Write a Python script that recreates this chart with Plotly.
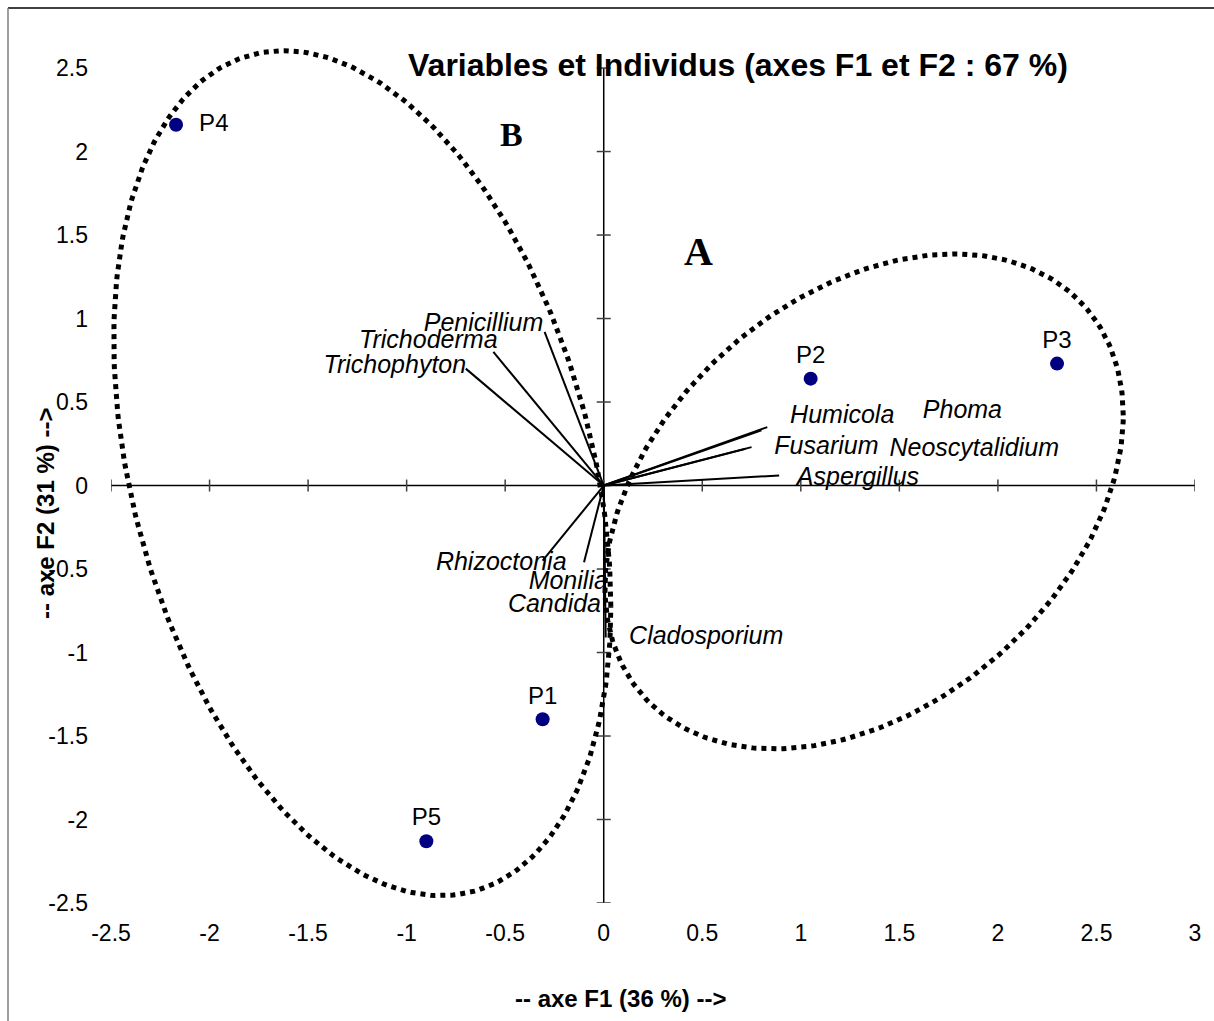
import numpy as np
import plotly.graph_objects as go

# ---------------- data ----------------
obs_names = ["P1", "P2", "P3", "P4", "P5"]
obs_f1 = [-0.31, 1.05, 2.30, -2.17, -0.90]
obs_f2 = [-1.40, 0.64, 0.73, 2.16, -2.13]
obs_textpos = ["top center", "top center", "top center", "middle right", "top center"]

var_names = ["Penicillium", "Trichoderma", "Trichophyton", "Humicola", "Phoma",
             "Fusarium", "Neoscytalidium", "Aspergillus", "Rhizoctonia", "Monilia",
             "Candida", "Cladosporium"]
var_f1 = [-0.30, -0.56, -0.70, 0.83, 0.80, 0.75, 0.72, 0.89, -0.31, -0.10, 0.005, 0.01]
var_f2 = [0.92, 0.80, 0.70, 0.35, 0.33, 0.23, 0.22, 0.06, -0.45, -0.46, -0.72, -0.91]
label_f1 = [-0.61, -0.89, -1.06, 1.21, 1.82, 1.13, 1.88, 1.29, -0.52, -0.18, -0.25, 0.52]
label_f2 = [0.96, 0.86, 0.71, 0.41, 0.44, 0.225, 0.215, 0.04, -0.47, -0.58, -0.72, -0.91]

x_ticks = [-2.5, -2, -1.5, -1, -0.5, 0, 0.5, 1, 1.5, 2, 2.5, 3]
y_ticks = [-2.5, -2, -1.5, -1, -0.5, 0, 0.5, 1, 1.5, 2, 2.5]

# group ellipses: centre, half extents, correlation (data units)
ellipse_B = dict(cx=-1.225, cy=0.074, sx=1.261, sy=2.530, rho=-0.316)
ellipse_A = dict(cx=1.321, cy=-0.095, sx=1.315, sy=1.482, rho=0.3475)

FONT = "Liberation Sans, Arial, sans-serif"
SERIF = "Liberation Serif, Times New Roman, serif"

# plot area in pixels (y range extended a little above 2.5 so the ellipse is not clipped)
PL, PR, PT, PB = 111, 1195, 48, 903
Y_TOP = 2.62


def px_x(p):
    return (p - PL) / (PR - PL)


def px_y(p):
    return (PB - p) / (PB - PT)


fig = go.Figure()

# ellipses
t = np.linspace(0, 2 * np.pi, 400)
for e in (ellipse_B, ellipse_A):
    ex = e["cx"] + e["sx"] * np.cos(t)
    ey = e["cy"] + e["sy"] * (e["rho"] * np.cos(t) + np.sqrt(1 - e["rho"] ** 2) * np.sin(t))
    fig.add_trace(go.Scatter(x=ex, y=ey, mode="lines",
                             line=dict(color="black", width=5, dash="5px,5px"),
                             hoverinfo="skip", showlegend=False))

# variable vectors
for vx, vy in zip(var_f1, var_f2):
    fig.add_trace(go.Scatter(x=[0, vx], y=[0, vy], mode="lines",
                             line=dict(color="black", width=2),
                             hoverinfo="skip", showlegend=False))

# variable labels
fig.add_trace(go.Scatter(x=label_f1, y=label_f2, mode="text",
                         text=["<i>%s</i>" % n for n in var_names],
                         textposition="middle center",
                         textfont=dict(family=FONT, size=25, color="black"),
                         cliponaxis=False,
                         hoverinfo="skip", showlegend=False))

# observations
obs_text = [("  " + n) if p == "middle right" else n for n, p in zip(obs_names, obs_textpos)]
fig.add_trace(go.Scatter(x=obs_f1, y=obs_f2, mode="markers+text",
                         marker=dict(color="#000080", size=14),
                         text=obs_text, textposition=obs_textpos,
                         textfont=dict(family=FONT, size=24, color="black"),
                         cliponaxis=False,
                         hoverinfo="skip", showlegend=False))

shapes = []
# axis lines crossing at origin
shapes.append(dict(type="line", xref="x", yref="y", x0=x_ticks[0], x1=x_ticks[-1], y0=0, y1=0,
                   line=dict(color="black", width=1.5), layer="below"))
shapes.append(dict(type="line", xref="x", yref="y", x0=0, x1=0, y0=y_ticks[0], y1=y_ticks[-1],
                   line=dict(color="black", width=1.5), layer="below"))
for xt in x_ticks:
    shapes.append(dict(type="line", xref="x", yref="y", x0=xt, x1=xt,
                       ysizemode="pixel", yanchor=0, y0=-6, y1=6,
                       line=dict(color="#404040", width=1.5), layer="below"))
for yt in y_ticks:
    shapes.append(dict(type="line", xref="x", yref="y", y0=yt, y1=yt,
                       xsizemode="pixel", xanchor=0, x0=-7, x1=7,
                       line=dict(color="#404040", width=1.5), layer="below"))
# frame of the picture
shapes.append(dict(type="line", xref="paper", yref="paper", x0=px_x(8), x1=px_x(1240),
                   y0=px_y(8), y1=px_y(8), line=dict(color="black", width=1.5)))
shapes.append(dict(type="line", xref="paper", yref="paper", x0=px_x(8), x1=px_x(8),
                   y0=px_y(8), y1=px_y(1040), line=dict(color="#808080", width=1.5)))

annotations = [
    dict(text="<b>Variables et Individus (axes F1 et F2 : 67 %)</b>", xref="paper", yref="paper",
         x=px_x(738), y=px_y(65), xanchor="center", yanchor="middle", showarrow=False,
         font=dict(family=FONT, size=32, color="black")),
    dict(text="<b>-- axe F1 (36 %) --></b>", xref="paper", yref="paper",
         x=px_x(620), y=px_y(999), xanchor="center", yanchor="middle",
         showarrow=False, font=dict(family=FONT, size=24, color="black")),
    dict(text="<b>-- axe F2 (31 %) --></b>", xref="paper", yref="paper",
         x=px_x(45), y=px_y(514), xanchor="center", yanchor="middle",
         textangle=-90, showarrow=False, font=dict(family=FONT, size=24, color="black")),
    dict(text="<b>A</b>", xref="x", yref="y", x=0.48, y=1.40, showarrow=False,
         font=dict(family=SERIF, size=40, color="black")),
    dict(text="<b>B</b>", xref="x", yref="y", x=-0.47, y=2.10, showarrow=False,
         font=dict(family=SERIF, size=34, color="black")),
]

fig.update_layout(
    width=1214, height=1021,
    margin=dict(l=PL, r=1214 - PR, t=PT, b=1021 - PB),
    paper_bgcolor="white", plot_bgcolor="white",
    showlegend=False,
    shapes=shapes, annotations=annotations,
    xaxis=dict(range=[x_ticks[0], x_ticks[-1]], tickvals=x_ticks,
               ticktext=[f"{v:g}" for v in x_ticks],
               showgrid=False, zeroline=False, showline=False, ticks="",
               ticklabelstandoff=14,
               tickfont=dict(family=FONT, size=23, color="black")),
    yaxis=dict(range=[y_ticks[0], Y_TOP], tickvals=y_ticks,
               ticktext=[f"{v:g}" for v in y_ticks],
               showgrid=False, zeroline=False, showline=False, ticks="",
               ticklabelstandoff=22,
               tickfont=dict(family=FONT, size=23, color="black")),
    font=dict(family=FONT),
)

fig.write_html("out.html", config={"displayModeBar": False})
